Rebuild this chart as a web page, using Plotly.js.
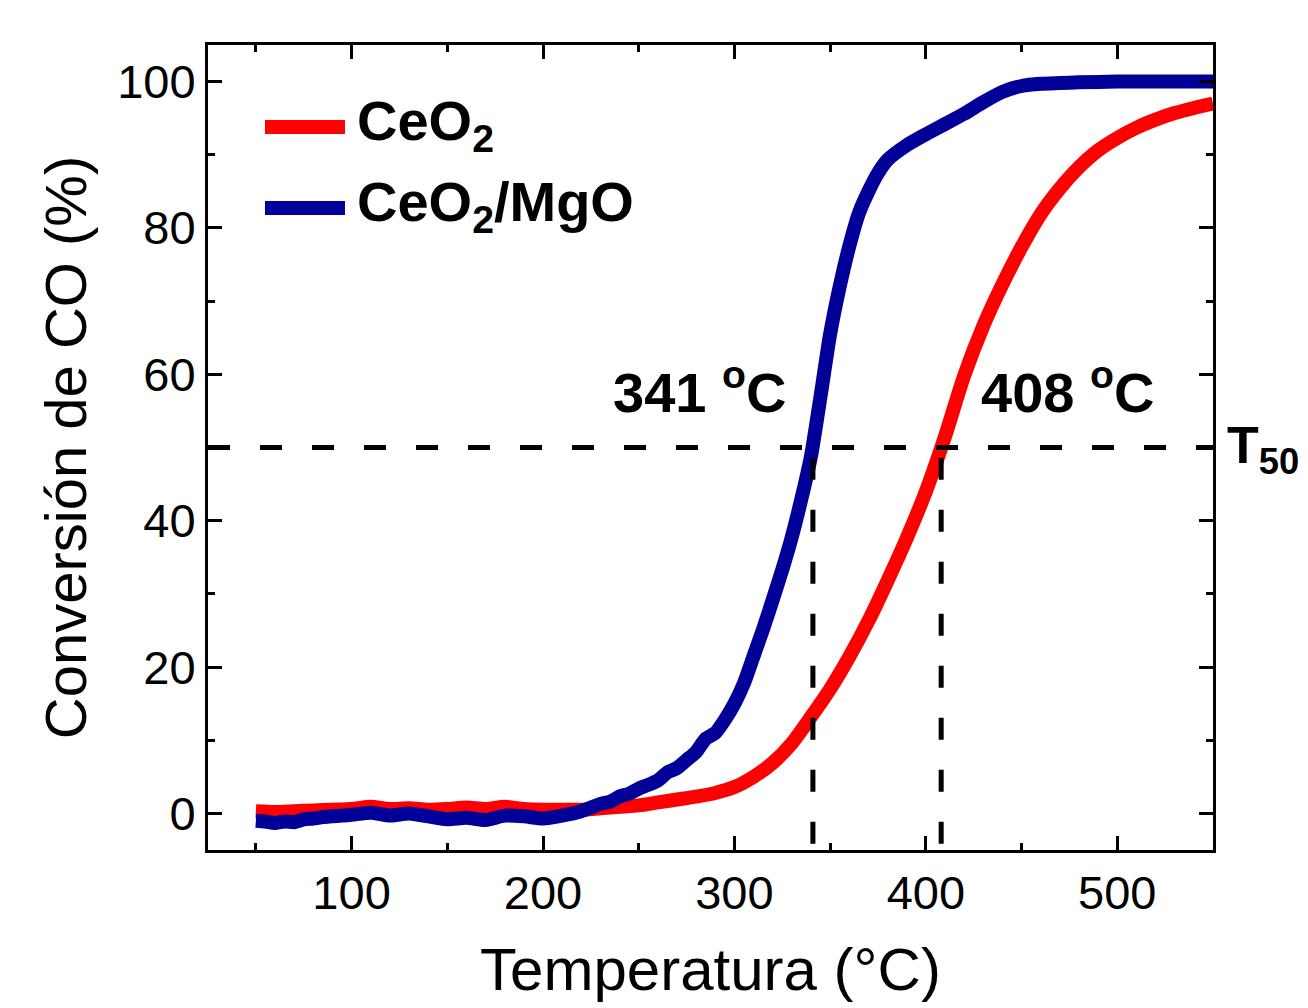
<!DOCTYPE html>
<html>
<head>
<meta charset="utf-8">
<script src="https://cdn.plot.ly/plotly-3.0.1.min.js"></script>
<style>
  html, body { margin: 0; padding: 0; background: #ffffff; }
  #chart { width: 1308px; height: 1008px; }
</style>
</head>
<body>
<div id="chart"></div>
<script>
// ---------------- data ----------------
const temperatureCeO2 = [50, 60, 70, 80, 90, 100, 110, 120, 130, 140, 150, 160, 170, 180, 190, 200, 210, 220, 230, 240, 250, 260, 270, 280, 290, 300, 310, 320, 330, 340, 350, 360, 370, 380, 390, 400, 410, 420, 430, 440, 450, 460, 470, 480, 490, 500, 510, 520, 530, 540, 550];
const conversionCeO2 = [0.3, 0.2, 0.3, 0.4, 0.5, 0.6, 0.9, 0.6, 0.7, 0.5, 0.6, 0.8, 0.6, 0.9, 0.6, 0.5, 0.5, 0.5, 0.7, 0.9, 1.1, 1.5, 1.9, 2.3, 2.8, 3.6, 5.0, 6.9, 9.6, 13.2, 17.0, 21.4, 26.3, 31.8, 37.6, 44.0, 51.5, 59.8, 66.6, 72.3, 77.4, 81.9, 85.4, 88.3, 90.6, 92.3, 93.7, 94.8, 95.7, 96.4, 97.0];

const temperatureCeO2MgO = [50, 55, 60, 65, 70, 75, 80, 85, 90, 95, 100, 110, 120, 130, 140, 150, 160, 170, 180, 190, 200, 210, 220, 230, 235, 240, 245, 250, 255, 260, 265, 270, 275, 280, 285, 290, 295, 300, 305, 310, 315, 320, 325, 330, 335, 340, 345, 350, 355, 360, 365, 370, 375, 380, 390, 400, 410, 420, 430, 440, 450, 460, 470, 480, 500, 520, 550];
const conversionCeO2MgO = [-1.0, -1.1, -1.3, -1.1, -1.2, -0.8, -0.7, -0.5, -0.4, -0.3, -0.2, 0.1, -0.3, 0.0, -0.4, -0.8, -0.6, -0.9, -0.3, -0.4, -0.7, -0.3, 0.3, 1.3, 1.6, 2.3, 2.7, 3.4, 3.9, 4.5, 5.6, 6.2, 7.3, 8.4, 10.2, 11.0, 12.8, 15.0, 17.8, 21.5, 25.2, 29.2, 33.3, 37.8, 43.0, 48.8, 57.0, 65.5, 72.0, 77.5, 82.0, 85.0, 87.5, 89.3, 91.3, 92.8, 94.2, 95.6, 97.2, 98.6, 99.4, 99.7, 99.8, 99.9, 100.0, 100.0, 100.0];

const seriesNames = ['CeO<sub>2</sub>', 'CeO<sub>2</sub>/MgO'];
const seriesColors = ['#FF0000', '#000099'];

const t50Values = [341, 408];
const t50Level = 50;
const t50Labels = ['341 <sup>o</sup>C', '408 <sup>o</sup>C'];
const t50Tag = 'T<sub>50</sub>';

const xTickValues = [100, 200, 300, 400, 500];
const yTickValues = [0, 20, 40, 60, 80, 100];

const xAxisTitle = 'Temperatura (°C)';
const yAxisTitle = 'Conversión de CO (%)';

// ---------------- chart ----------------
const FONT = 'Liberation Sans, Arial, Helvetica, sans-serif';

const traces = [
  {
    x: temperatureCeO2, y: conversionCeO2, type: 'scatter', mode: 'lines',
    name: seriesNames[0], showlegend: false,
    line: { color: seriesColors[0], width: 14, shape: 'spline', smoothing: 0.7 }
  },
  {
    x: temperatureCeO2MgO, y: conversionCeO2MgO, type: 'scatter', mode: 'lines',
    name: seriesNames[1], showlegend: false,
    line: { color: seriesColors[1], width: 14, shape: 'spline', smoothing: 0.6 }
  }
];

const dashStyle = { color: '#000000', width: 5, dash: '22px,30px' };

const shapes = [
  { type: 'line', xref: 'paper', yref: 'y', x0: 0, x1: 1, y0: t50Level, y1: t50Level, line: dashStyle, layer: 'above' }
];
t50Values.forEach(function (t) {
  shapes.push({ type: 'line', xref: 'x', yref: 'y', x0: t, x1: t, y0: t50Level - 1.4, y1: -5, line: dashStyle, layer: 'above' });
});
// legend swatches
const legendY = [0.898, 0.7975];
seriesColors.forEach(function (c, i) {
  shapes.push({ type: 'line', xref: 'paper', yref: 'paper', x0: 0.0567, x1: 0.1363, y0: legendY[i], y1: legendY[i], line: { color: c, width: 14 } });
});

const annotations = [];
seriesNames.forEach(function (n, i) {
  annotations.push({
    xref: 'paper', yref: 'paper', x: 0.146, y: legendY[i], xanchor: 'left', yanchor: 'middle',
    text: '<b>' + n + '</b>', showarrow: false, yshift: 3,
    font: { family: FONT, size: 56, color: '#000000' }
  });
});
const t50LabelOffsets = [-59, 66];
t50Values.forEach(function (t, i) {
  annotations.push({
    xref: 'x', yref: 'y', x: t + t50LabelOffsets[i], y: 58, xanchor: 'center', yanchor: 'middle',
    text: '<b>' + t50Labels[i] + '</b>', showarrow: false,
    font: { family: FONT, size: 56, color: '#000000' }
  });
});
annotations.push({
  xref: 'paper', yref: 'y', x: 1, y: t50Level, xanchor: 'left', yanchor: 'top', xshift: 12, yshift: 34,
  text: '<b>' + t50Tag + '</b>', showarrow: false,
  font: { family: FONT, size: 52, color: '#000000' }
});

const axisCommon = {
  showline: true, linecolor: '#000000', linewidth: 3, mirror: 'ticks',
  ticks: 'inside', ticklen: 14, tickwidth: 3, tickcolor: '#000000',
  showgrid: false, zeroline: false,
  tickfont: { family: FONT, size: 47, color: '#000000' }
};

const layout = {
  width: 1308, height: 1008,
  margin: { l: 208, r: 95, t: 45, b: 158 },
  paper_bgcolor: '#ffffff', plot_bgcolor: '#ffffff',
  font: { family: FONT, color: '#000000' },
  showlegend: false,
  xaxis: Object.assign({}, axisCommon, {
    range: [25, 550], tickvals: xTickValues, ticktext: xTickValues.map(String),
    minor: { dtick: 50, tick0: 0, ticks: 'inside', ticklen: 7, tickwidth: 3, tickcolor: '#000000', showgrid: false },
    title: { text: xAxisTitle, font: { family: FONT, size: 60, color: '#000000' }, standoff: 30 }
  }),
  yaxis: Object.assign({}, axisCommon, {
    range: [-5, 105], tickvals: yTickValues, ticktext: yTickValues.map(String),
    minor: { dtick: 10, tick0: 0, ticks: 'inside', ticklen: 7, tickwidth: 3, tickcolor: '#000000', showgrid: false },
    title: { text: yAxisTitle, font: { family: FONT, size: 58, color: '#000000' }, standoff: 12 }
  }),
  shapes: shapes,
  annotations: annotations
};

Plotly.newPlot('chart', traces, layout, { displayModeBar: false, staticPlot: true });
</script>
</body>
</html>
